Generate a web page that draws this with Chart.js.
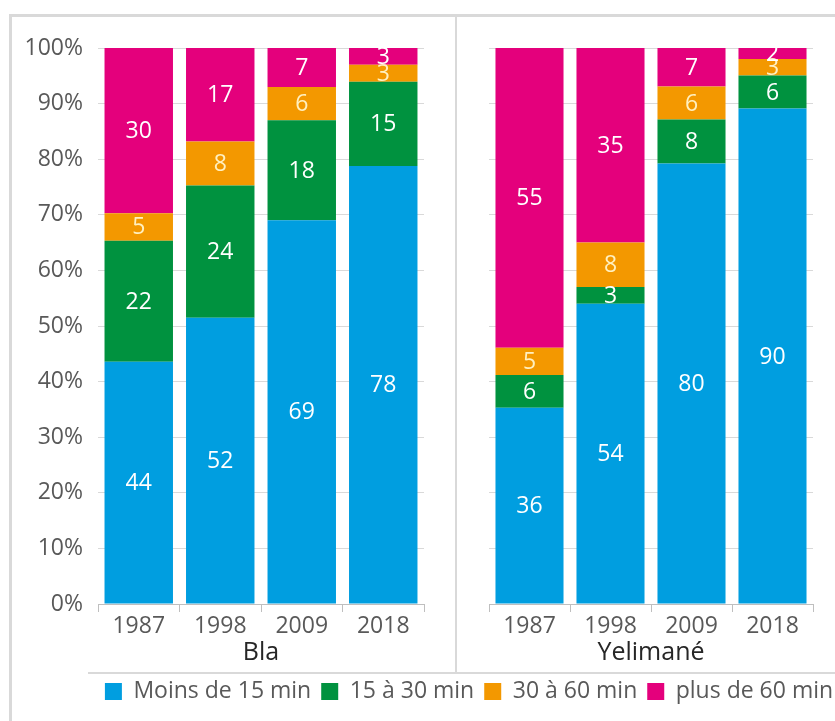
<!DOCTYPE html>
<html>
<head>
<meta charset="utf-8">
<script src="https://cdn.jsdelivr.net/npm/chart.js@4.4.1/dist/chart.umd.min.js"></script>
<style>
  body { margin: 0; background: #fff; }
  #wrap { position: relative; width: 835px; height: 721px; overflow: hidden; }
  canvas { position: absolute; }
  .line { position: absolute; background: #d9d9d9; }
</style>
</head>
<body>
<div id="wrap">
  <div class="line" style="left:10px; top:14px; width:825px; height:3px;"></div>
  <div class="line" style="left:9px; top:14px; width:3px; height:707px;"></div>
  <div class="line" style="left:455px; top:14px; width:2px; height:660px;"></div>
  <div class="line" style="left:88px; top:672px; width:747px; height:2px;"></div>
  <canvas id="bla" width="456" height="672" style="left:0; top:0;"></canvas>
  <canvas id="yel" width="379" height="672" style="left:456px; top:0;"></canvas>
  <canvas id="leg" width="835" height="51" style="left:20px; top:670px;"></canvas>
</div>
<script>
// years and groups
const years = ['1987', '1998', '2009', '2018'];
const groups = ['Bla', 'Yelimané'];
const seriesNames = ['Moins de 15 min', '15 à 30 min', '30 à 60 min', 'plus de 60 min'];
const seriesColors = ['#009ee0', '#00923f', '#f39800', '#e4007c'];
const labelColors = ['#ffffff', '#ffffff', '#fff0c0', '#ffffff'];

// values shown on the bars (%), one array per series
const blaMoins15 = [44, 52, 69, 78];
const bla15a30 = [22, 24, 18, 15];
const bla30a60 = [5, 8, 6, 3];
const blaPlus60 = [30, 17, 7, 3];

const yelMoins15 = [36, 54, 80, 90];
const yel15a30 = [6, 3, 8, 6];
const yel30a60 = [5, 8, 6, 3];
const yelPlus60 = [55, 35, 7, 2];

const yTicks = [0, 10, 20, 30, 40, 50, 60, 70, 80, 90, 100];

const font = 'Open Sans';

// bars are 100% stacked, so scale each year to its total
function toShare(series) {
    const totals = years.map((y, i) => series.reduce((s, arr) => s + arr[i], 0));
    return series.map(arr => arr.map((v, i) => v / totals[i] * 100));
}

const valueLabels = {
    id: 'valueLabels',
    afterDatasetsDraw(chart) {
        const ctx = chart.ctx;
        ctx.save();
        ctx.font = '23px "' + font + '"';
        ctx.textAlign = 'center';
        ctx.textBaseline = 'middle';
        chart.data.datasets.forEach((ds, di) => {
            chart.getDatasetMeta(di).data.forEach((bar, i) => {
                const p = bar.getProps(['x', 'y', 'base'], true);
                ctx.fillStyle = labelColors[di];
                ctx.fillText(String(ds.raw[i]), p.x, (p.y + p.base) / 2 + 1);
            });
        });
        ctx.restore();
    }
};

function makeChart(id, title, series, showY, padRight) {
    const share = toShare(series);
    return new Chart(document.getElementById(id), {
        type: 'bar',
        data: {
            labels: years,
            datasets: seriesNames.map((name, i) => ({
                label: name,
                data: share[i],
                raw: series[i],
                backgroundColor: seriesColors[i],
                categoryPercentage: 0.84,
                barPercentage: 1
            }))
        },
        options: {
            responsive: false,
            animation: false,
            layout: { padding: { top: 48, right: padRight, left: 0, bottom: 0 } },
            plugins: { legend: { display: false }, tooltip: { enabled: false } },
            scales: {
                x: {
                    stacked: true,
                    border: { color: '#bfbfbf' },
                    grid: { drawOnChartArea: false, color: '#bfbfbf', tickLength: 8 },
                    ticks: { color: '#595959', font: { family: font, size: 23 }, padding: 1, maxRotation: 0 },
                    title: { display: true, text: title, color: '#262626', font: { family: font, size: 25 }, padding: { top: 4, bottom: 4 } },
                    afterFit: s => { s.height = 68; }
                },
                y: {
                    stacked: true,
                    min: 0,
                    max: 100,
                    afterBuildTicks: s => { s.ticks = yTicks.map(v => ({ value: v })); },
                    border: { display: false },
                    grid: { color: '#d9d9d9', drawTicks: false },
                    ticks: {
                        display: showY,
                        color: '#595959',
                        font: { family: font, size: 23 },
                        padding: 15,
                        callback: v => v + '%'
                    },
                    afterFit: s => { s.width = showY ? 98 : 33; }
                }
            }
        },
        plugins: [valueLabels]
    });
}

makeChart('bla', groups[0], [blaMoins15, bla15a30, bla30a60, blaPlus60], true, 32);
makeChart('yel', groups[1], [yelMoins15, yel15a30, yel30a60, yelPlus60], false, 22);

// shared legend under both panels
new Chart(document.getElementById('leg'), {
    type: 'bar',
    data: {
        labels: [],
        datasets: seriesNames.map((name, i) => ({ label: name, data: [], backgroundColor: seriesColors[i] }))
    },
    options: {
        responsive: false,
        animation: false,
        layout: { padding: { left: 63, top: 0 } },
        scales: { x: { display: false }, y: { display: false } },
        plugins: {
            tooltip: { enabled: false },
            legend: {
                position: 'top',
                maxHeight: 60,
                labels: {
                    color: '#595959',
                    font: { family: font, size: 23 },
                    boxWidth: 17,
                    boxHeight: 17,
                    padding: 10
                }
            }
        }
    }
});
</script>
</body>
</html>
